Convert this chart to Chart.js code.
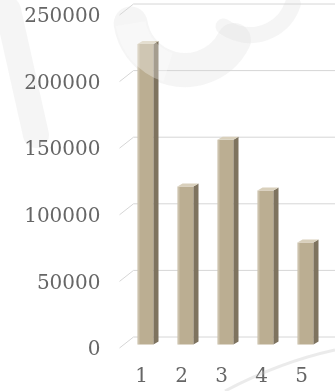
<!DOCTYPE html>
<html>
<head>
<meta charset="utf-8">
<script src="https://cdn.jsdelivr.net/npm/chart.js@4/dist/chart.umd.min.js"></script>
<style>
  html, body { margin: 0; padding: 0; background: #fff; }
  #wrap { width: 335px; height: 391px; position: relative; }
</style>
</head>
<body>
<div id="wrap"><canvas id="grafico"></canvas></div>
<script>
// dados do gráfico
const categorias = ['1', '2', '3', '4', '5'];
const valores = [226000, 119000, 154000, 116000, 77000];
const marcasY = [0, 50000, 100000, 150000, 200000, 250000];

// cores das faces das colunas
const corFrente = '#bbae92';
const corLado = '#7e735f';
const corTopo = '#d9d0bc';

// profundidade da coluna e da parede do fundo
const profBarra = { dx: 5, dy: -3 };
const profParede = { dx: 8, dy: -8 };

// marca d'água clara ao fundo
const marcaDagua = {
    id: 'marcaDagua',
    beforeDraw(chart) {
        const ctx = chart.ctx;
        ctx.save();
        ctx.strokeStyle = 'rgba(225,225,225,0.35)';
        ctx.lineCap = 'round';
        ctx.lineWidth = 34;
        ctx.beginPath();
        ctx.arc(185, 15, 55, Math.PI * 0.15, Math.PI * 0.95, false);
        ctx.stroke();
        ctx.lineWidth = 16;
        ctx.beginPath();
        ctx.arc(250, -10, 45, Math.PI * 0.1, Math.PI * 0.7, false);
        ctx.stroke();
        ctx.lineWidth = 26;
        ctx.beginPath();
        ctx.moveTo(8, 10);
        ctx.lineTo(36, 135);
        ctx.stroke();
        ctx.restore();
    }
};

// linhas de grade na parede do fundo, ligadas ao eixo por uma diagonal
const gradeFundo = {
    id: 'gradeFundo',
    beforeDatasetsDraw(chart) {
        const ctx = chart.ctx;
        const y = chart.scales.y;
        const area = chart.chartArea;
        ctx.save();
        ctx.strokeStyle = '#d6d6d6';
        ctx.lineWidth = 1;
        marcasY.forEach(v => {
            const py = y.getPixelForValue(v);
            ctx.beginPath();
            ctx.moveTo(area.left - 6, py + 3);
            ctx.lineTo(area.left + profParede.dx, py + profParede.dy);
            ctx.lineTo(chart.width, py + profParede.dy);
            ctx.stroke();
        });
        ctx.restore();
    }
};

// faces lateral e superior de cada coluna
const colunas3d = {
    id: 'colunas3d',
    afterDatasetsDraw(chart) {
        const ctx = chart.ctx;
        const meta = chart.getDatasetMeta(0);
        ctx.save();
        meta.data.forEach(bar => {
            const p = bar.getProps(['x', 'y', 'base', 'width'], true);
            const esq = p.x - p.width / 2;
            const dir = p.x + p.width / 2;
            // lado direito
            ctx.fillStyle = corLado;
            ctx.beginPath();
            ctx.moveTo(dir, p.y);
            ctx.lineTo(dir + profBarra.dx, p.y + profBarra.dy);
            ctx.lineTo(dir + profBarra.dx, p.base + profBarra.dy);
            ctx.lineTo(dir, p.base);
            ctx.closePath();
            ctx.fill();
            // topo
            ctx.fillStyle = corTopo;
            ctx.beginPath();
            ctx.moveTo(esq, p.y);
            ctx.lineTo(esq + profBarra.dx, p.y + profBarra.dy);
            ctx.lineTo(dir + profBarra.dx, p.y + profBarra.dy);
            ctx.lineTo(dir, p.y);
            ctx.closePath();
            ctx.fill();
            // aresta clara à esquerda
            ctx.fillStyle = 'rgba(255,255,255,0.25)';
            ctx.fillRect(esq, p.y, 2, p.base - p.y);
        });
        // véu branco da marca d'água sobre o alto da primeira coluna
        ctx.strokeStyle = 'rgba(255,255,255,0.3)';
        ctx.lineWidth = 30;
        ctx.beginPath();
        ctx.arc(185, 15, 55, Math.PI * 0.6, Math.PI * 0.95, false);
        ctx.stroke();
        // dobra de página no canto inferior direito
        ctx.strokeStyle = 'rgba(190,190,190,0.3)';
        ctx.lineWidth = 3;
        ctx.beginPath();
        ctx.moveTo(225, 391);
        ctx.quadraticCurveTo(280, 362, 335, 350);
        ctx.stroke();
        ctx.restore();
    }
};

const ctx = document.getElementById('grafico').getContext('2d');
new Chart(ctx, {
    type: 'bar',
    data: {
        labels: categorias,
        datasets: [{
            data: valores,
            backgroundColor: corFrente,
            borderWidth: 0,
            barPercentage: 0.4,
            categoryPercentage: 1
        }]
    },
    options: {
        responsive: true,
        maintainAspectRatio: false,
        animation: false,
        layout: { padding: { top: 10, right: 9.5, left: 0, bottom: 0 } },
        plugins: {
            legend: { display: false },
            tooltip: { enabled: false }
        },
        scales: {
            x: {
                grid: { display: true, drawOnChartArea: false, tickLength: 20, tickColor: 'rgba(0,0,0,0)' },
                border: { display: false },
                afterFit: scale => { scale.height = 46; },
                ticks: {
                    color: '#666',
                    font: { family: 'DejaVu Serif', size: 20 },
                    padding: 0,
                    labelOffset: -4,
                    maxRotation: 0
                }
            },
            y: {
                min: 0,
                max: 250000,
                grid: { display: true, drawOnChartArea: false, tickLength: 25, tickColor: 'rgba(0,0,0,0)' },
                border: { display: false },
                afterFit: scale => { scale.width = 125.5; },
                afterBuildTicks: scale => {
                    scale.ticks = marcasY.map(v => ({ value: v }));
                },
                ticks: {
                    color: '#666',
                    font: { family: 'DejaVu Serif', size: 20 },
                    padding: 0,
                    labelOffset: 5,
                    callback: v => String(v)
                }
            }
        }
    },
    plugins: [marcaDagua, gradeFundo, colunas3d]
});
</script>
</body>
</html>
